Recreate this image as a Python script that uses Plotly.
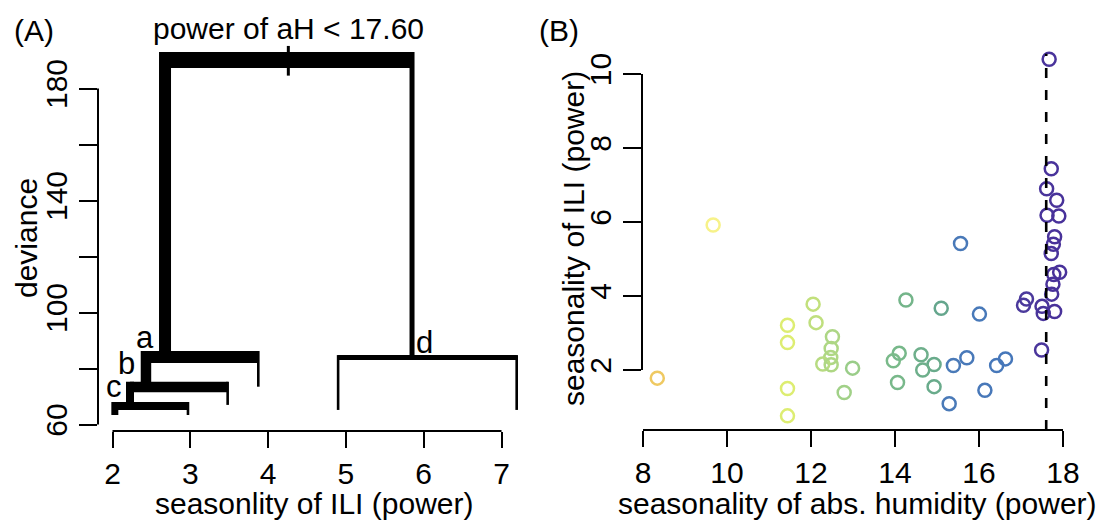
import plotly.graph_objects as go

# ---------------- Panel A: regression tree (x = node mean ILI seasonality, y = deviance)
node_name   = ["root", "a", "b", "c", "d", "a_leaf", "b_leaf", "c_leaf1", "c_leaf2", "d_leaf1", "d_leaf2"]
node_parent = [None, "root", "a", "b", "root", "a", "b", "c", "c", "d", "d"]
node_ili    = [4.26, 2.675, 2.43, 2.225, 5.85, 3.874, 3.48, 2.03, 2.97, 4.90, 7.195]
node_dev    = [190.2, 84.1, 73.4, 66.6, 83.9, 73.5, 67.0, 63.4, 63.4, 65.2, 65.2]
node_label  = ["", "a", "b", "c", "d", "", "", "", "", "", ""]
split_var = "aH"
split_value = 17.60

dev_ticks = [60, 80, 100, 120, 140, 160, 180]
dev_tick_text = ["60", "", "100", "", "140", "", "180"]
ili_ticks_a = [2, 3, 4, 5, 6, 7]

# ---------------- Panel B: scatter
ah_power = [8.34, 9.67, 11.44, 11.44, 11.44, 11.44, 12.05, 12.12, 12.51, 12.48,
            12.47, 12.28, 12.48, 12.99, 12.79, 14.26, 15.10, 14.10, 13.96, 14.62,
            14.93, 14.66, 14.06, 14.93, 15.56, 16.01, 15.39, 15.71, 15.29, 16.14,
            16.42, 16.63, 17.49, 17.13, 17.06, 17.50, 17.53, 17.80, 17.67, 17.72,
            17.61, 17.85, 17.62, 17.90, 17.80, 17.77, 17.72, 17.92, 17.78, 17.76,
            17.73]
ili_power = [1.78, 5.92, 3.21, 2.74, 1.50, 0.76, 3.78, 3.28, 2.90, 2.58,
             2.34, 2.16, 2.14, 2.05, 1.39, 3.89, 3.67, 2.45, 2.25, 2.41,
             2.15, 2.00, 1.66, 1.55, 5.42, 3.51, 2.12, 2.33, 1.09, 1.45,
             2.12, 2.30, 2.54, 3.92, 3.75, 3.72, 3.53, 3.58, 10.40, 7.44,
             6.90, 6.59, 6.18, 6.16, 5.60, 5.40, 5.15, 4.64, 4.58, 4.32,
             4.05]
ah_ticks = [8, 10, 12, 14, 16, 18]
ili_ticks_b = [2, 4, 6, 8, 10]

# ---------------- styles / layout geometry
W, H = 1099, 521
FONT = "Liberation Sans, Arial, Helvetica, sans-serif"
FS = 30
branch_width = {"root": 16, "a": 12, "b": 10.5, "c": 8, "d": 5,
                "a_leaf": 2.6, "b_leaf": 2.6, "c_leaf1": 7, "c_leaf2": 2.6,
                "d_leaf1": 2.6, "d_leaf2": 2.6}
label_shift = {"a": (-20, 20), "b": (-19, 23), "c": (-16, 20), "d": (12, 15)}

A_px = dict(x0=98, x1=525, y0=40, y1=431)
B_px = dict(x0=642, x1=1078, y0=40, y1=430)
A_xr = [1.8136, 7.302]
A_yr = [57.68, 197.32]
B_xr = [7.976, 18.357]
B_yr = [0.378, 10.919]

def dom_x(p):
    return [p["x0"] / W, p["x1"] / W]

def dom_y(p):
    return [1 - p["y1"] / H, 1 - p["y0"] / H]

ppu_y_A = (A_px["y1"] - A_px["y0"]) / (A_yr[1] - A_yr[0])

fig = go.Figure()

idx = {n: i for i, n in enumerate(node_name)}
children = {n: [] for n in node_name}
for n, p in zip(node_name, node_parent):
    if p is not None:
        children[p].append(n)

def seg(xs, ys, w):
    fig.add_trace(go.Scatter(x=xs, y=ys, mode="lines", xaxis="x", yaxis="y",
                             line=dict(color="black", width=w),
                             hoverinfo="skip", showlegend=False))

# horizontals of internal nodes
for n in node_name:
    ch = children[n]
    if ch:
        xs = sorted(node_ili[idx[c]] for c in ch)
        seg([xs[0], xs[-1]], [node_dev[idx[n]]] * 2, branch_width[n])
# verticals into each non-root node
for n, p in zip(node_name, node_parent):
    if p is None:
        continue
    top = node_dev[idx[p]] + (branch_width[p] / 2) / ppu_y_A
    seg([node_ili[idx[n]]] * 2, [top, node_dev[idx[n]]], branch_width[n])
# split marker at root
r = idx["root"]
seg([node_ili[r]] * 2, [node_dev[r] - 5.6, node_dev[r] + 5.0], 3)

# Panel B scatter
fig.add_trace(go.Scatter(
    x=ah_power, y=ili_power, mode="markers", xaxis="x2", yaxis="y2",
    marker=dict(symbol="circle-open", size=13, color=ah_power,
                cmin=8.3, cmax=18.0,
                colorscale=[[0.0, "#efc860"], [0.144, "#f7f38a"], [0.32, "#dfee70"],
                            [0.45, "#a6d388"], [0.57, "#7cbc8a"], [0.70, "#66a88b"],
                            [0.72, "#4a7ab8"], [0.87, "#4677ba"],
                            [0.9, "#4b3a9c"], [1.0, "#48309a"]],
                line=dict(width=2.5)),
    hoverinfo="skip", showlegend=False))

shapes = [
    # panel A axis lines (R style: from first to last tick)
    dict(type="line", xref="x domain", yref="y", x0=0, x1=0, y0=dev_ticks[0], y1=dev_ticks[-1],
         line=dict(color="black", width=2)),
    dict(type="line", xref="x", yref="y domain", x0=ili_ticks_a[0], x1=ili_ticks_a[-1], y0=0, y1=0,
         line=dict(color="black", width=2)),
    # panel B axis lines
    dict(type="line", xref="x2 domain", yref="y2", x0=0, x1=0, y0=ili_ticks_b[0], y1=ili_ticks_b[-1],
         line=dict(color="black", width=2)),
    dict(type="line", xref="x2", yref="y2 domain", x0=ah_ticks[0], x1=ah_ticks[-1], y0=0, y1=0,
         line=dict(color="black", width=2)),
    # split threshold
    dict(type="line", xref="x2", yref="y2 domain", x0=split_value, x1=split_value, y0=0, y1=0.965,
         line=dict(color="black", width=2.6, dash="10px,12px")),
]

annotations = [
    dict(text="(A)", xref="paper", yref="paper", x=12 / W, y=1 - 31 / H,
         xanchor="left", yanchor="middle", showarrow=False),
    dict(text="(B)", xref="paper", yref="paper", x=537 / W, y=1 - 31 / H,
         xanchor="left", yanchor="middle", showarrow=False),
    dict(text=f"power of {split_var} < {split_value:.2f}", xref="x", yref="paper",
         x=node_ili[r], y=1 - 28 / H, xanchor="center", yanchor="middle", showarrow=False),
    dict(text="seasonlity of ILI (power)", xref="paper", yref="paper", x=314 / W, y=1 - 503 / H,
         xanchor="center", yanchor="middle", showarrow=False),
    dict(text="deviance", xref="paper", yref="paper", x=26 / W, y=1 - 238 / H, textangle=-90,
         xanchor="center", yanchor="middle", showarrow=False),
    dict(text="seasonality of abs. humidity (power)", xref="paper", yref="paper", x=857 / W,
         y=1 - 503 / H, xanchor="center", yanchor="middle", showarrow=False),
    dict(text="seasonality of ILI (power)", xref="paper", yref="paper", x=573 / W, y=1 - 239 / H,
         textangle=-90, xanchor="center", yanchor="middle", showarrow=False),
]
for n, lab in zip(node_name, node_label):
    if lab:
        dx, dy = label_shift[lab]
        annotations.append(dict(text=lab, xref="x", yref="y", x=node_ili[idx[n]], y=node_dev[idx[n]],
                                xshift=dx, yshift=dy, xanchor="center", yanchor="middle",
                                showarrow=False, font=dict(size=31)))

tickfont = dict(family=FONT, size=FS, color="black")
common = dict(showgrid=False, zeroline=False, showline=False, ticks="outside",
              tickwidth=2, tickcolor="black", tickfont=tickfont, automargin=False)

fig.update_layout(
    width=W, height=H, margin=dict(l=0, r=0, t=0, b=0, pad=0, autoexpand=False),
    paper_bgcolor="white", plot_bgcolor="white",
    font=dict(family=FONT, size=FS, color="black"),
    xaxis=dict(domain=dom_x(A_px), range=A_xr, anchor="y", tickvals=ili_ticks_a,
               ticklen=16, **common),
    yaxis=dict(domain=dom_y(A_px), range=A_yr, anchor="x", tickvals=dev_ticks,
               ticktext=dev_tick_text, tickangle=-90, ticklen=18, **common),
    xaxis2=dict(domain=dom_x(B_px), range=B_xr, anchor="y2", tickvals=ah_ticks,
                ticklen=16, **common),
    yaxis2=dict(domain=dom_y(B_px), range=B_yr, anchor="x2", tickvals=ili_ticks_b,
                tickangle=-90, ticklen=18, **common),
    shapes=shapes, annotations=annotations,
)

fig.write_html("out.html")
